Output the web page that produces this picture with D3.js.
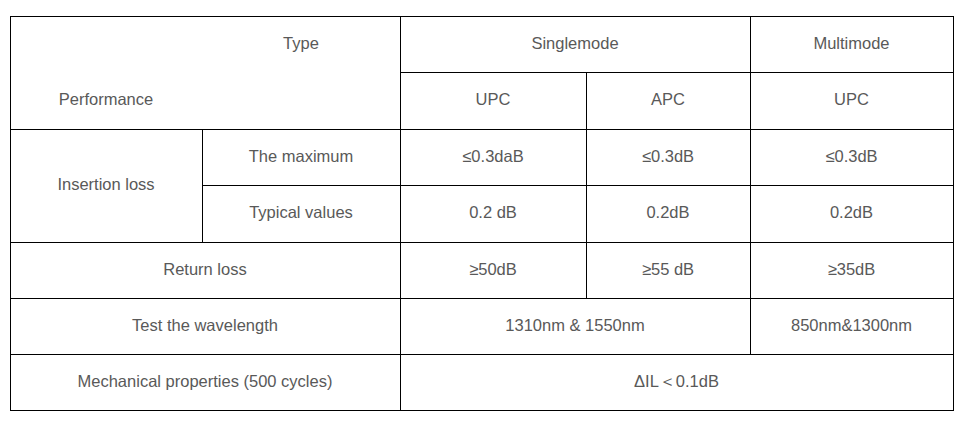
<!DOCTYPE html><html><head><meta charset="utf-8">
<script src="https://cdn.jsdelivr.net/npm/d3@7"></script>
<style>body{margin:0;background:#fff}</style></head><body><svg id="c" width="971" height="424"></svg>
<script>
const headerType = "Type", headerPerf = "Performance";
const groups = ["Singlemode","Multimode"];
const subTypes = ["UPC","APC","UPC"];
const rowLabels = ["Insertion loss","Return loss","Test the wavelength","Mechanical properties (500 cycles)"];
const subRowLabels = ["The maximum","Typical values"];
const maxValues = ["≤0.3daB","≤0.3dB","≤0.3dB"];
const typicalValues = ["0.2 dB","0.2dB","0.2dB"];
const returnLoss = ["≥50dB","≥55 dB","≥35dB"];
const wavelengths = ["1310nm & 1550nm","850nm&1300nm"];
const mechanical = ["ΔIL＜0.1dB"];

const xs=[10,202,400,586,750,953], ys=[16,72,129,185,242,298,354,410];
const cells=[
 [0,2,0,2,""],
 [2,4,0,1,groups[0]],[4,5,0,1,groups[1]],
 [2,3,1,2,subTypes[0]],[3,4,1,2,subTypes[1]],[4,5,1,2,subTypes[2]],
 [0,1,2,4,rowLabels[0]],[1,2,2,3,subRowLabels[0]],[1,2,3,4,subRowLabels[1]],
 ...maxValues.map((v,i)=>[2+i,3+i,2,3,v]),
 ...typicalValues.map((v,i)=>[2+i,3+i,3,4,v]),
 [0,2,4,5,rowLabels[1]],...returnLoss.map((v,i)=>[2+i,3+i,4,5,v]),
 [0,2,5,6,rowLabels[2]],[2,4,5,6,wavelengths[0]],[4,5,5,6,wavelengths[1]],
 [0,2,6,7,rowLabels[3]],[2,5,6,7,mechanical[0]]
];
const svg=d3.select("#c");
const g=svg.selectAll("g.cell").data(cells).join("g");
g.append("rect").attr("x",d=>xs[d[0]]+.5).attr("y",d=>ys[d[2]]+.5)
 .attr("width",d=>xs[d[1]]-xs[d[0]]).attr("height",d=>ys[d[3]]-ys[d[2]])
 .attr("fill","none").attr("stroke","#000").attr("stroke-width",1);
const txt=[...cells.filter(d=>d[4]).map(d=>[(xs[d[0]]+xs[d[1]])/2,(ys[d[2]]+ys[d[3]])/2,d[4]]),
 [(xs[1]+xs[2])/2,(ys[0]+ys[1])/2,headerType],[(xs[0]+xs[1])/2,(ys[1]+ys[2])/2,headerPerf]];
svg.selectAll("text.t").data(txt).join("text").attr("x",d=>d[0]).attr("y",d=>d[1]+4.5)
 .attr("text-anchor","middle").attr("font-family","Liberation Sans, Arial, sans-serif")
 .attr("font-size",16.5).attr("fill","#595959").text(d=>d[2]);
</script></body></html>
